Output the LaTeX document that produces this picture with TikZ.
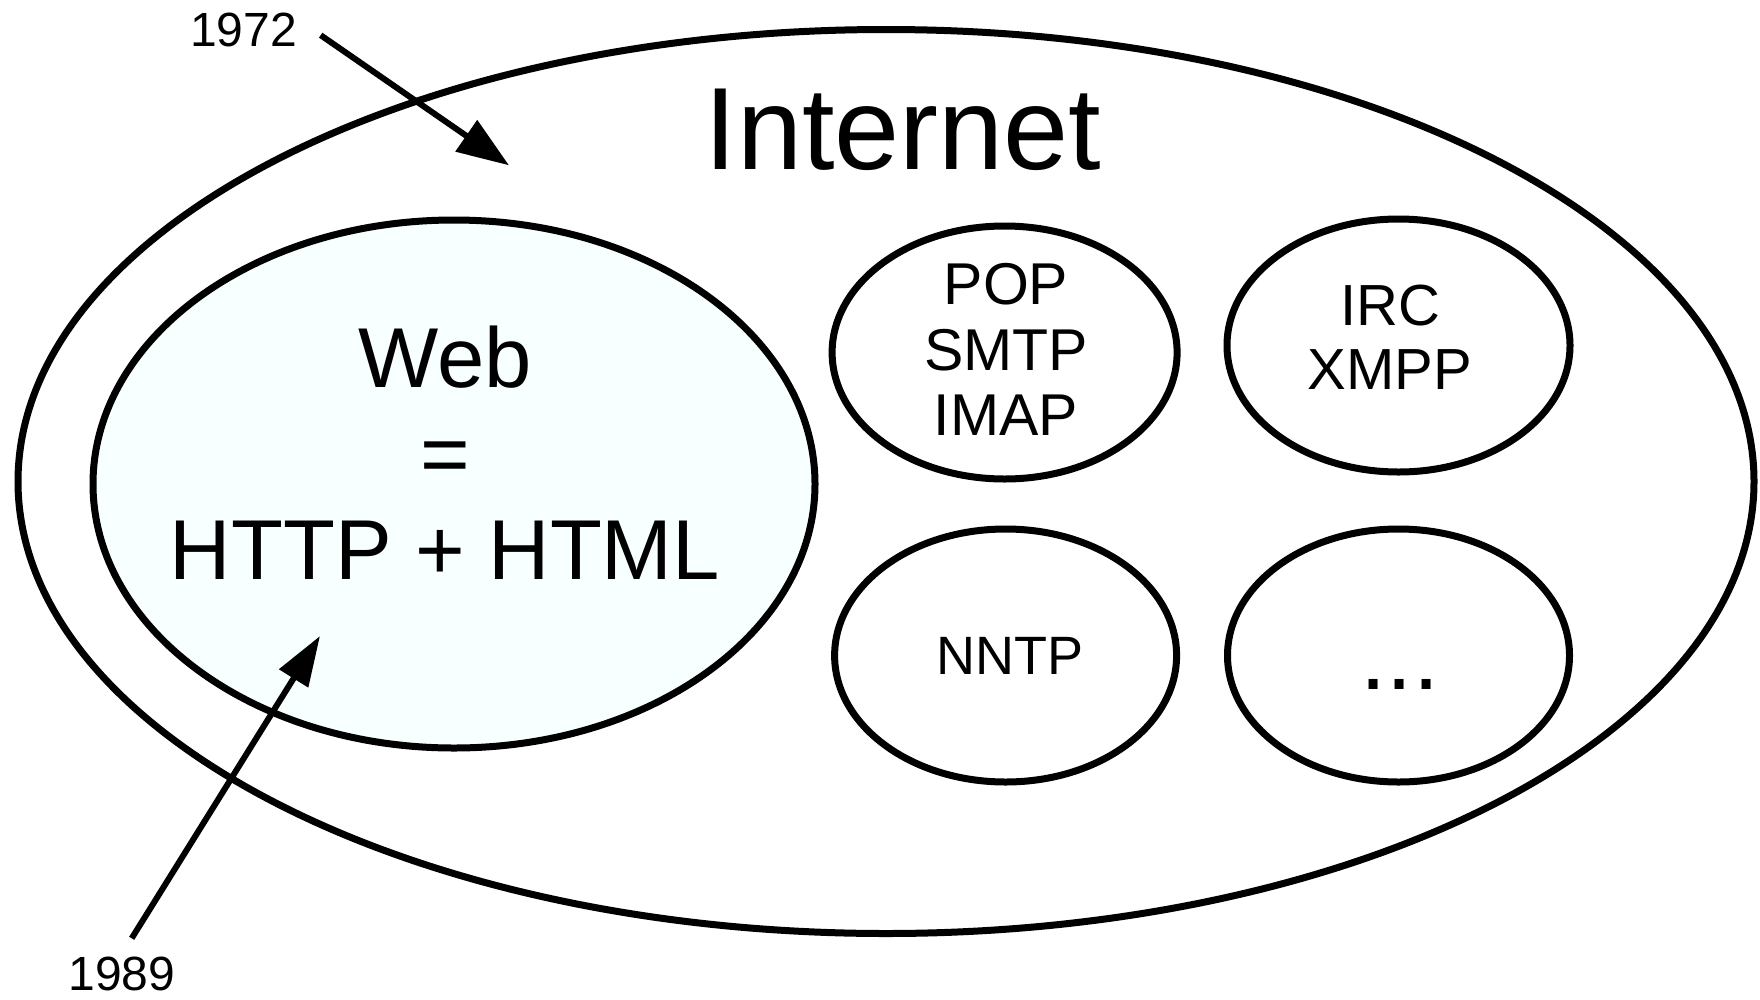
\documentclass[tikz,border=0pt]{standalone}
\usepackage{fontspec}
\setmainfont{Liberation Sans}
\usetikzlibrary{shapes.geometric,arrows.meta}
\definecolor{webfill}{RGB}{247,255,255}
\tikzset{
  oval/.style={ellipse, draw=black, line width=7pt, inner sep=0pt},
  lbl/.style={inner sep=0pt, align=center},
  pointer/.style={line width=6pt},
}
\begin{document}
\begin{tikzpicture}[x=1pt,y=-1pt]
\useasboundingbox (0,0) rectangle (1760,999);
% outer Internet ellipse
\node[oval, minimum width=1736pt, minimum height=904pt] (internet) at (886,481.5) {};
% Web ellipse
\node[oval, fill=webfill, minimum width=722pt, minimum height=528pt] (web) at (454,484) {};
% protocol ellipses
\node[oval, minimum width=345pt, minimum height=253pt] (mail) at (1004.6,352.5) {};
\node[oval, minimum width=343pt, minimum height=253pt] (chat) at (1398.5,345.5) {};
\node[oval, minimum width=342pt, minimum height=253pt] (news) at (1005.6,655.5) {};
\node[oval, minimum width=342pt, minimum height=253pt] (more) at (1398.5,655.5) {};
% labels
\node[lbl, anchor=base, font=\fontsize{117}{130}\selectfont] (tinternet) at (903,169.3) {Internet};
\node[lbl, font=\fontsize{85}{96.2}\selectfont] (tweb) at (445,452.7) {Web\\=\\HTTP + HTML};
\node[lbl, font=\fontsize{59}{65.2}\selectfont] (tmail) at (1006,349.5) {POP\\SMTP\\IMAP};
\node[lbl, font=\fontsize{58}{64.5}\selectfont] (tchat) at (1390,337) {IRC\\XMPP};
\node[lbl, anchor=base, font=\fontsize{54}{65}\selectfont] (tnews) at (1010,674.6) {NNTP};
\node[lbl, anchor=base, font=\fontsize{94}{100}\selectfont] (tmore) at (1400,689) {...};
\node[lbl, anchor=base, font=\fontsize{48}{56}\selectfont] (y1972) at (243.5,46) {1972};
\node[lbl, anchor=base, font=\fontsize{48}{56}\selectfont] (y1989) at (122,990) {1989};
% arrows
\coordinate (a1s) at (320.7,35.2);
\coordinate (a1e) at (509,165.3);
\coordinate (a2s) at (131.7,938.3);
\coordinate (a2e) at (320,636);
\draw[pointer, -{Triangle[length=52pt,width=37pt]}] (a1s) -- (a1e);
\draw[pointer, -{Triangle[length=50pt,width=33pt]}] (a2s) -- (a2e);
\end{tikzpicture}
\end{document}
